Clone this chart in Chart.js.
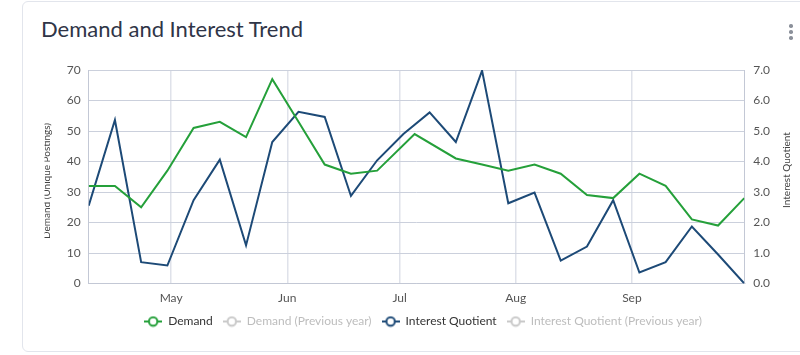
<!DOCTYPE html>
<html><head><meta charset="utf-8">
<script src="https://cdn.jsdelivr.net/npm/chart.js@4.4.0/dist/chart.umd.min.js"></script>
<style>
html,body{margin:0;padding:0;background:#fff;width:800px;height:355px;overflow:hidden;font-family:Lato,sans-serif}
.card{position:absolute;left:22px;top:1px;width:800px;height:351px;border:1px solid #e2e5ec;border-radius:6px;box-sizing:border-box}
.title{position:absolute;left:41px;top:15px;font-size:22px;color:#2f3547;font-family:Lato,sans-serif;white-space:nowrap}
.kebab{position:absolute;left:789px;top:24px;width:4px}
.kebab span{display:block;width:3.5px;height:3.5px;border-radius:50%;background:#8b909a;margin-bottom:2.5px}
#wrap{position:absolute;left:0;top:0;width:800px;height:355px}
</style></head>
<body>
<div class="card"></div>
<div class="title">Demand and Interest Trend</div>
<div class="kebab"><span></span><span></span><span></span></div>
<div id="wrap"><canvas id="c" width="800" height="355"></canvas></div>
<script>
// ---- data ----
const weeks = ['2023-04-09','2023-04-16','2023-04-23','2023-04-30','2023-05-07','2023-05-14','2023-05-21','2023-05-28','2023-06-04','2023-06-11','2023-06-18','2023-06-25','2023-07-02','2023-07-09','2023-07-16','2023-07-23','2023-07-30','2023-08-06','2023-08-13','2023-08-20','2023-08-27','2023-09-03','2023-09-10','2023-09-17','2023-09-24','2023-10-01'];
const demandDates = ['2023-04-09','2023-04-16','2023-04-23','2023-04-30','2023-05-07','2023-05-14','2023-05-21','2023-05-28','2023-06-04','2023-06-11','2023-06-18','2023-06-25','2023-07-05','2023-07-16','2023-07-23','2023-07-30','2023-08-06','2023-08-13','2023-08-20','2023-08-27','2023-09-03','2023-09-10','2023-09-17','2023-09-24','2023-10-01'];
const demand = [32, 32, 25, 37, 51, 53, 48, 67, 53, 39, 36, 37, 49, 41, 39, 37, 39, 36, 29, 28, 36, 32, 21, 19, 28];
const interest = [2.55, 5.36, 0.7, 0.59, 2.73, 4.06, 1.25, 4.64, 5.63, 5.46, 2.87, 4.04, 4.9, 5.61, 4.64, 6.98, 2.63, 2.98, 0.75, 1.21, 2.73, 0.36, 0.7, 1.87, 0.95, 0.0];
const demandPrev = [];
const interestPrev = [];
const monthStarts = ['2023-05-01','2023-06-01','2023-07-01','2023-08-01','2023-09-01'];
const monthLabels = ['May','Jun','Jul','Aug','Sep'];
const seriesNames = ['Demand','Demand (Previous year)','Interest Quotient','Interest Quotient (Previous year)'];
const leftAxisTitle = 'Demand (Unique Postings)';
const rightAxisTitle = 'Interest Quotient';

const DAY = 86400000;
const dayNum = s => Date.parse(s + 'T00:00:00Z') / DAY;
const pts = (dates, arr) => arr.map((v, i) => ({x: dayNum(dates[i]), y: v}));

const GREEN = '#25a03a', BLUE = '#1d4a77', GREY = '#c9c9c9';
function marker(color){
  const c = document.createElement('canvas');
  c.width = 18; c.height = 12;
  const g = c.getContext('2d');
  g.strokeStyle = color; g.lineWidth = 2;
  g.beginPath(); g.moveTo(0,6); g.lineTo(18,6); g.stroke();
  g.beginPath(); g.arc(9,6,4.2,0,Math.PI*2); g.fillStyle='#fff'; g.fill(); g.stroke();
  return c;
}

const axisTitles = {
  id: 'axisTitles',
  afterDraw(chart){
    const ctx = chart.ctx;
    ctx.save();
    ctx.fillStyle = '#444';
    ctx.font = '10px Lato, sans-serif';
    ctx.textAlign = 'center'; ctx.textBaseline = 'middle';
    ctx.save();
    ctx.beginPath(); ctx.rect(44.5, 0, 100, 355); ctx.clip();
    ctx.translate(47, 181); ctx.rotate(-Math.PI/2);
    ctx.fillText(leftAxisTitle, 0, 0);
    ctx.restore();
    ctx.save();
    ctx.translate(787, 170); ctx.rotate(-Math.PI/2);
    ctx.fillText(rightAxisTitle, 0, 0);
    ctx.restore();
    ctx.restore();
  }
};

const colors = [GREEN, GREY, BLUE, GREY];
new Chart(document.getElementById('c'), {
  type: 'line',
  data: {
    datasets: [
      {label: seriesNames[0], data: pts(demandDates, demand), yAxisID: 'y', borderColor: GREEN, backgroundColor: GREEN},
      {label: seriesNames[1], data: pts(weeks, demandPrev), yAxisID: 'y', borderColor: GREY, hidden: true},
      {label: seriesNames[2], data: pts(weeks, interest), yAxisID: 'y1', borderColor: BLUE, backgroundColor: BLUE},
      {label: seriesNames[3], data: pts(weeks, interestPrev), yAxisID: 'y1', borderColor: GREY, hidden: true}
    ]
  },
  options: {
    responsive: false,
    animation: false,
    elements: {point: {radius: 0, hoverRadius: 0}, line: {borderWidth: 2, tension: 0, fill: false}},
    layout: {padding: {top: 70, left: 46, right: 0, bottom: 17.5}},
    plugins: {
      tooltip: {enabled: false},
      legend: {
        position: 'bottom',
        labels: {
          usePointStyle: true, pointStyleWidth: 18, boxHeight: 12, padding: 10,
          font: {family: 'Lato, sans-serif', size: 12}, color: '#333',
          generateLabels(chart){
            return chart.data.datasets.map((ds, i) => ({
              text: ds.label, datasetIndex: i, hidden: false,
              fontColor: ds.hidden ? '#bdbdbd' : '#333',
              pointStyle: marker(colors[i]), lineWidth: 0, strokeStyle: 'transparent', fillStyle: 'transparent'
            }));
          }
        }
      }
    },
    scales: {
      x: {
        type: 'linear',
        min: dayNum(weeks[0]), max: dayNum(weeks[weeks.length-1]),
        afterBuildTicks(scale){ scale.ticks = monthStarts.map(m => ({value: dayNum(m)})); },
        afterFit(scale){ scale.height = 22; },
        ticks: {
          autoSkip: false, maxRotation: 0, padding: 7, color: '#555',
          font: {family: 'Lato, sans-serif', size: 12},
          callback(v){ const i = monthStarts.findIndex(m => dayNum(m) === v); return i >= 0 ? monthLabels[i] : ''; }
        },
        grid: {color: '#dfe2ea', lineWidth: 1.5, drawTicks: false},
        border: {color: '#c3c8d5', width: 1}
      },
      y: {
        position: 'left', min: 0, max: 70,
        afterFit(scale){ scale.width = 42.7; },
        ticks: {stepSize: 10, padding: 8, color: '#555', font: {family: 'Lato, sans-serif', size: 12}},
        grid: {color: '#cbd0dc', lineWidth: 1, drawTicks: false},
        border: {color: '#c3c8d5', width: 1}
      },
      y1: {
        position: 'right', min: 0, max: 7,
        afterFit(scale){ scale.width = 55.7; },
        ticks: {stepSize: 1, padding: 9, color: '#555', font: {family: 'Lato, sans-serif', size: 12}, callback: v => v.toFixed(1)},
        grid: {drawOnChartArea: false, drawTicks: false},
        border: {color: '#c3c8d5', width: 1}
      }
    }
  },
  plugins: [axisTitles]
});
</script>
</body></html>
